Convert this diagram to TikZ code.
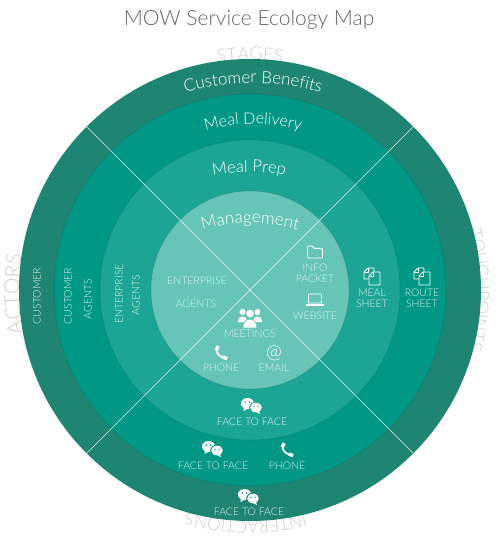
\documentclass[tikz,border=0pt]{standalone}
\usepackage{fontspec}
\setmainfont{Lato Light}
\usetikzlibrary{decorations.text}
\definecolor{ringA}{HTML}{1F8573}
\definecolor{ringB}{HTML}{009785}
\definecolor{ringC}{HTML}{1CA594}
\definecolor{ringD}{HTML}{66C5B6}
\definecolor{labelc}{HTML}{DDF3EE}
\definecolor{graytxt}{HTML}{CFCFCF}
\tikzset{
  x=1pt,y=1pt,
  ringshade/.style={draw=black,draw opacity=.07,line width=1pt},
  small/.style={text=labelc,font=\fontsize{10.5}{11}\selectfont,inner sep=0pt,align=center},
  spoke/.style={white,line width=.6pt,opacity=.85},
  icon/.style={white,line width=.9pt,line join=round},
  pics/chat/.style={code={
    \fill[white] (-3.5,2.5) ellipse (6.5 and 5.5);
    \fill[white] (-7,-1.5) -- (-7.5,-5) -- (-3,-2.5) -- cycle;
    \fill[#1] (5,-1.5) ellipse (6.8 and 5.8);
    \fill[white] (5,-1.5) ellipse (5.8 and 4.8);
    \fill[white] (8,-5) -- (9,-8) -- (4,-5.5) -- cycle;
    \fill[#1] (-5.7,4) circle (.9) (-1.4,4) circle (.9) (3,-.4) circle (.8) (7,-.4) circle (.8);
  }},
  pics/phone/.style={code={
    \draw[white,line width=1.7pt] (-4.8,4.2) .. controls (-4.6,-1) and (-.5,-4.6) .. (4.4,-5);
    \fill[white,rotate around={-25:(-3.8,4.5)}] (-5.6,2.5) rectangle (-2.2,7);
    \fill[white,rotate around={-25:(4,-4.3)}] (2,-6.5) rectangle (6.5,-3);
  }},
  pics/folder/.style={code={
    \draw[icon,rounded corners=.8pt] (-7.5,-6) -- (-7.5,6) -- (-2.5,6) -- (-1,3.6) -- (7.5,3.6) -- (7.5,-6) -- cycle;
  }},
  pics/laptop/.style={code={
    \draw[icon,rounded corners=.5pt] (-6.5,-3) -- (-6.5,6) -- (6.5,6) -- (6.5,-3) -- cycle;
    \draw[icon] (-9,-5.5) -- (9,-5.5);
    \draw[icon,line width=.6pt] (-9,-4.6) -- (9,-4.6);
  }},
  pics/sheets/.style={code={
    \draw[icon,rounded corners=.4pt] (-8,-2) -- (-8,5) -- (-4,9) -- (2,9) -- (2,-2) -- cycle;
    \fill[#1] (-3,-8) rectangle (8,5);
    \draw[icon,rounded corners=.4pt] (-3,-8) -- (-3,1) -- (1,5) -- (8,5) -- (8,-8) -- cycle;
    \draw[icon,line width=.6pt] (-3,1) -- (1,1) -- (1,5) (-8,5) -- (-4,5) -- (-4,9);
  }},
  pics/people/.style={code={
    \fill[white] (-7.5,6) circle (3) (7.5,6) circle (3);
    \fill[white] (-12,-3) .. controls (-12,3) and (-3,3) .. (-3,-3) -- (-3,-4) -- (-12,-4) -- cycle;
    \fill[white] (12,-3) .. controls (12,3) and (3,3) .. (3,-3) -- (3,-4) -- (12,-4) -- cycle;
    \fill[ringD] (0,4) circle (4.8);
    \fill[white] (0,4.5) circle (3.8);
    \fill[ringD] (-7.5,-9.5) .. controls (-8,2) and (8,2) .. (7.5,-9.5) -- cycle;
    \fill[white] (-6.5,-9.5) .. controls (-7,1) and (7,1) .. (6.5,-9.5) -- cycle;
  }},
}
\begin{document}
\begin{tikzpicture}[x=1pt,y=1pt]
\useasboundingbox (-250,-251) rectangle (250,290);
\fill[white] (-250,-251) rectangle (250,290);
\node[text=black!60,font=\fontsize{21}{24}\selectfont,inner sep=0pt] (title) at (-1,270) {MOW Service Ecology Map};
% outer grey labels
\path[decorate,decoration={text along path,text align=center,text={|\fontsize{18}{18}\selectfont\color{graytxt}|STAGES}}] (150:230) arc (150:30:230);
\path[decorate,decoration={text along path,text align=center,text={|\fontsize{17}{17}\selectfont\color{graytxt}|TOUCHPOINTS}}] (30:227) arc (30:-30:227);
\path[decorate,decoration={text along path,text align=center,text={|\fontsize{20.5}{20.5}\selectfont\color{graytxt}|ACTORS}}] (-149:231) arc (-149:-209:231);
\path[decorate,decoration={text along path,text align=center,text={|\fontsize{17}{17}\selectfont\color{graytxt}|INTERACTIONS}}] (-51:231) arc (-51:-131:231);
% rings
\fill[ringA] (0,0) circle (231);
\filldraw[fill=ringB,ringshade] (0,0) circle (196);
\filldraw[fill=ringC,ringshade] (0,0) circle (150);
\filldraw[fill=ringD,ringshade] (0,0) circle (99);
% spokes
\coordinate (tl) at (135:231); \coordinate (br) at (-45:231);
\coordinate (tr) at (45:231); \coordinate (bl) at (-135:231);
\draw[spoke] (tl) -- (br);
\draw[spoke] (tr) -- (bl);
% ring titles
\path[decorate,decoration={text along path,text align=center,text={|\fontsize{17}{17}\selectfont\color{white}|Customer Benefits}}] (3,-33) ++(135:240) arc (135:45:240);
\path[decorate,decoration={text along path,text align=center,text={|\fontsize{16}{16}\selectfont\color{white}|Meal Delivery}}] (3,0) ++(140:166) arc (140:40:166);
\path[decorate,decoration={text along path,text align=center,text={|\fontsize{16.5}{16.5}\selectfont\color{white}|Meal Prep}}] (-1,-72) ++(125:190) arc (125:55:190);
\path[decorate,decoration={text along path,text align=center,text={|\fontsize{17}{17}\selectfont\color{white}|Management}}] (0,-100) ++(125:167) arc (125:55:167);
% left labels
\node[small,rotate=90] (cust) at (-213,-6) {CUSTOMER};
\node[small,rotate=90] (cust2) at (-182,-6) {CUSTOMER};
\node[small,rotate=90] (ag2) at (-162,-9) {AGENTS};
\node[small,rotate=90] (ent) at (-131,-4) {ENTERPRISE};
\node[small,rotate=90] (ag3) at (-114,-5) {AGENTS};
% inner left
\node[small] (ent4) at (-53,9) {ENTERPRISE};
\node[small] (ag4) at (-54,-14) {AGENTS};
% inner right
\pic at (65,38) {folder};
\node[small] (info) at (65,22) {INFO};
\node[small] (packet) at (65,11) {PACKET};
\pic at (65,-10) {laptop};
\node[small] (web) at (65,-26) {WEBSITE};
% inner bottom
\pic at (0,-28) {people};
\node[small] (meet) at (0,-44) {MEETINGS};
\pic at (-29,-63) {phone};
\node[small] (ph1) at (-29,-78) {PHONE};
\node[text=white,font=\fontsize{19}{19}\selectfont,inner sep=0pt] (at) at (24,-63) {@};
\node[small] (email) at (24,-78) {EMAIL};
% right sheets
\pic at (122,13) {sheets=ringC};
\node[small] (meal) at (122,-3) {MEAL};
\node[small] (ms) at (122,-14) {SHEET};
\pic at (172,13) {sheets=ringB};
\node[small] (route) at (172,-3) {ROUTE};
\node[small] (rs) at (172,-14) {SHEET};
% bottom
\pic at (1,-116) {chat=ringC};
\node[small] (f1) at (2,-132) {FACE TO FACE};
\pic at (-38,-159) {chat=ringB};
\node[small] (f2) at (-37,-176) {FACE TO FACE};
\pic at (37,-160) {phone};
\node[small] (ph2) at (37,-176) {PHONE};
\pic at (-2,-207) {chat=ringA};
\node[small] (f3) at (-1,-222) {FACE TO FACE};
\end{tikzpicture}
\end{document}
